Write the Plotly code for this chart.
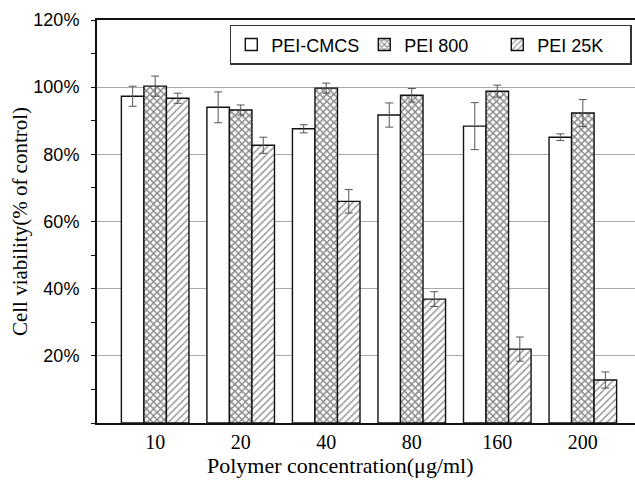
import plotly.graph_objects as go

categories = ["10", "20", "40", "80", "160", "200"]
pei_cmcs = [97.3, 94.0, 87.6, 91.7, 88.4, 85.1]
pei_cmcs_err = [3.0, 4.6, 1.2, 3.6, 7.0, 1.0]
pei_800 = [100.3, 93.2, 99.7, 97.6, 98.8, 92.3]
pei_800_err = [3.0, 1.5, 1.5, 2.0, 1.8, 4.0]
pei_25k = [96.7, 82.7, 66.0, 36.9, 22.0, 12.8]
pei_25k_err = [1.5, 2.4, 3.5, 2.2, 3.6, 2.4]

y_ticks = [20, 40, 60, 80, 100, 120]
y_ticklabels = ["20%", "40%", "60%", "80%", "100%", "120%"]

line_col = "#111111"
err = dict(type="data", color="#555555", thickness=1, width=4)

fig = go.Figure()
fig.add_bar(name="PEI-CMCS", x=categories, y=pei_cmcs,
            error_y=dict(array=pei_cmcs_err, **err),
            marker=dict(color="white", line=dict(color=line_col, width=1.4)))
fig.add_bar(name="PEI 800", x=categories, y=pei_800,
            error_y=dict(array=pei_800_err, **err),
            marker=dict(color="white", line=dict(color=line_col, width=1.4),
                        pattern=dict(shape="x", fgcolor="#1a1a1a", bgcolor="white",
                                     size=5, solidity=0.5)))
fig.add_bar(name="PEI 25K", x=categories, y=pei_25k,
            error_y=dict(array=pei_25k_err, **err),
            marker=dict(color="white", line=dict(color=line_col, width=1.4),
                        pattern=dict(shape="/", fgcolor="#333333", bgcolor="white",
                                     size=5, solidity=0.3)))

fig.update_layout(
    width=635, height=485,
    margin=dict(l=97, r=0, t=20, b=62),
    paper_bgcolor="white", plot_bgcolor="white",
    barmode="group", bargap=0.21, bargroupgap=0,
    font=dict(family="Liberation Sans, Arial", color="black"),
    legend=dict(orientation="h", x=0.994, xanchor="right", y=0.988, yanchor="top",
                bordercolor="#333333", borderwidth=1.5, bgcolor="white",
                font=dict(size=18, family="Liberation Sans, Arial"),
                entrywidth=88, tracegroupgap=0),
    xaxis=dict(
        type="category", range=[-0.68, 5.61],
        showline=True, linecolor=line_col, linewidth=2, mirror=True,
        ticks="", showgrid=False,
        tickfont=dict(family="Liberation Serif, Times New Roman", size=20),
    ),
    yaxis=dict(
        range=[0, 120], tickvals=y_ticks, ticktext=y_ticklabels,
        showline=True, linecolor=line_col, linewidth=2,
        ticks="outside", ticklen=0, ticklabelstandoff=12,
        minor=dict(dtick=10, ticks="outside", ticklen=4, tickcolor=line_col, showgrid=False),
        showgrid=True, gridcolor="#aaaaaa", gridwidth=1,
        tickfont=dict(size=18, family="Liberation Sans, Arial"),
        zeroline=False,
        title=dict(text="Cell viability(% of control)",
                   font=dict(family="Liberation Serif, Times New Roman", size=21),
                   standoff=0),
    ),
    annotations=[dict(
        text="Polymer concentration(μg/ml)", xref="paper", yref="paper",
        x=0.452, y=-0.105, xanchor="center", yanchor="middle", showarrow=False,
        font=dict(family="Liberation Serif, Times New Roman", size=22, color="black"),
    )],
)

fig.write_html("out.html")
